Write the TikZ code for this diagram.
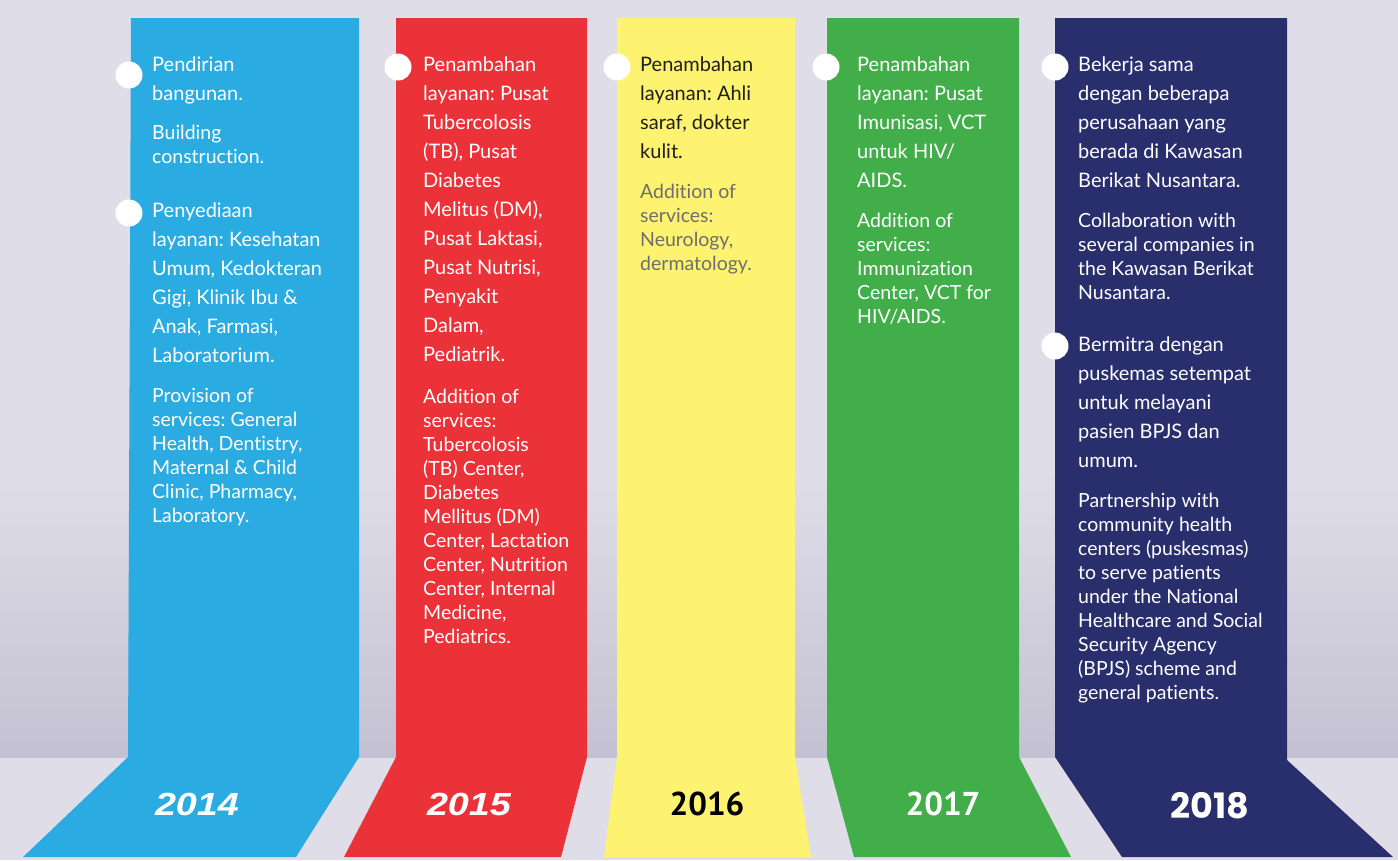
\documentclass[tikz,border=0pt]{standalone}
\usepackage{fontspec}
\setmainfont{Lato}[Ligatures=NoCommon]
\newfontfamily\yearit[FakeStretch=1.18]{Liberation Sans}
\newfontfamily\yearcn{PT Sans}
\newfontfamily\yearrd{Poppins}
\frenchspacing
\definecolor{bgtop}{HTML}{DFDEE8}
\definecolor{bgdark}{HTML}{C4C1D2}
\definecolor{colblue}{HTML}{2AABE2}
\definecolor{colred}{HTML}{EA3238}
\definecolor{colyellow}{HTML}{FEF271}
\definecolor{colgreen}{HTML}{41AE4A}
\definecolor{colnavy}{HTML}{292E6D}
\definecolor{engray}{HTML}{6E6E6E}
\tikzset{
    dot/.style={circle, fill=white, inner sep=0pt, minimum size=27pt}, % 白色圆点
    idtext/.style={anchor=north west, yshift=14.8pt, align=left, inner sep=0pt, text=white, font=\fontsize{20}{29}\selectfont, execute at begin node=\strut}, % 印尼文段落
    entext/.style={anchor=north west, yshift=14.3pt, align=left, inner sep=0pt, text=white, font=\fontsize{19.5}{24}\selectfont, execute at begin node=\strut}, % 英文段落
    year/.style={inner sep=0pt, text=white} % 年份标签
}

\begin{document}
\begin{tikzpicture}[x=1pt, y=-1pt]
    \def\W{1398} \def\H{860} \def\top{18} \def\kink{757} \def\bot{857}
    \useasboundingbox (0,0) rectangle (\W,\H);

    \fill[bgtop] (0,0) rectangle (\W,\H);
    \shade[top color=bgtop, bottom color=bgdark] (0,470) rectangle (\W,\kink);

    \fill[colblue] (131,\top) -- (359,\top) -- (359,\kink) -- (296,\bot) -- (23,\bot) -- (128,\kink) -- cycle;
    \fill[colred] (396,\top) -- (587,\top) -- (587,\kink) -- (561,\bot) -- (344,\bot) -- (396,\kink) -- cycle;
    \fill[colyellow] (617,\top) -- (795,\top) -- (795,\kink) -- (811,\bot) -- (604,\bot) -- (617,\kink) -- cycle;
    \fill[colgreen] (827,\top) -- (1019,\top) -- (1019,\kink) -- (1071,\bot) -- (854,\bot) -- (827,\kink) -- cycle;
    \fill[colnavy] (1055,\top) -- (1287,\top) -- (1287,760) -- (1393,\bot) -- (1122,\bot) -- (1055,\kink) -- cycle;

    \foreach \n/\x/\y in {14a/129/75, 14b/129/213, 15a/398/67, 16a/617/67, 17a/826/67, 18a/1055/67, 18b/1055/346}
        {\node[dot] (dot\n) at (\x,\y) {};}

    % 2014
    \node[idtext] (id14a) at (152,71) {Pendirian\\bangunan.};
    \node[entext] (en14a) at (152,139) {Building\\construction.};
    \node[idtext] (id14b) at (152,217) {Penyediaan\\layanan: Kesehatan\\Umum, Kedokteran\\Gigi, Klinik Ibu \&\\Anak, Farmasi,\\Laboratorium.};
    \node[entext] (en14b) at (152,402) {Provision of\\services: General\\Health, Dentistry,\\Maternal \& Child\\Clinic, Pharmacy,\\Laboratory.};

    % 2015
    \node[idtext] (id15a) at (423,71) {Penambahan\\layanan: Pusat\\Tubercolosis\\(TB), Pusat\\Diabetes\\Melitus (DM),\\Pusat Laktasi,\\Pusat Nutrisi,\\Penyakit\\Dalam,\\Pediatrik.};
    \node[entext] (en15a) at (423,403) {Addition of\\services:\\Tubercolosis\\(TB) Center,\\Diabetes\\Mellitus (DM)\\Center, Lactation\\Center, Nutrition\\Center, Internal\\Medicine,\\Pediatrics.};

    % 2016
    \node[idtext, text=black!88] (id16a) at (640,71) {Penambahan\\layanan: Ahli\\saraf, dokter\\kulit.};
    \node[entext, text=engray] (en16a) at (640,198) {Addition of\\services:\\Neurology,\\dermatology.};

    % 2017
    \node[idtext] (id17a) at (857,71) {Penambahan\\layanan: Pusat\\Imunisasi, VCT\\untuk HIV/\\AIDS.};
    \node[entext] (en17a) at (857,227) {Addition of\\services:\\Immunization\\Center, VCT for\\HIV/AIDS.};

    % 2018
    \node[idtext] (id18a) at (1078,71) {Bekerja sama\\dengan beberapa\\perusahaan yang\\berada di Kawasan\\Berikat Nusantara.};
    \node[entext] (en18a) at (1078,227) {Collaboration with\\several companies in\\the Kawasan Berikat\\Nusantara.};
    \node[idtext] (id18b) at (1078,351) {Bermitra dengan\\puskemas setempat\\untuk melayani\\pasien BPJS dan\\umum.};
    \node[entext] (en18b) at (1078,507) {Partnership with\\community health\\centers (puskesmas)\\to serve patients\\under the National\\Healthcare and Social\\Security Agency\\(BPJS) scheme and\\general patients.};

    % 年份
    \node[year, font=\yearit\bfseries\itshape\fontsize{32}{32}\selectfont] (y14) at (197,804) {2014};
    \node[year, font=\yearit\bfseries\itshape\fontsize{32}{32}\selectfont] (y15) at (469,804) {2015};
    \node[year, text=black, font=\yearcn\bfseries\fontsize{33}{33}\selectfont] (y16) at (707,804) {2016};
    \node[year, font=\yearcn\bfseries\fontsize{33}{33}\selectfont] (y17) at (943,804) {2017};
    \node[year, font=\yearrd\bfseries\fontsize{35}{35}\selectfont] (y18) at (1210,806) {2018};
\end{tikzpicture}
\end{document}
